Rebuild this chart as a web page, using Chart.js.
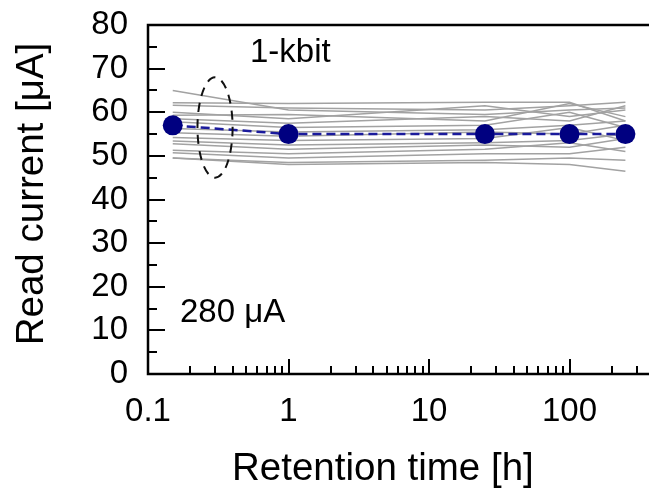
<!DOCTYPE html>
<html>
<head>
<meta charset="utf-8">
<script src="https://cdn.jsdelivr.net/npm/chart.js@4/dist/chart.umd.min.js"></script>
<style>
  html, body { margin: 0; padding: 0; background: #fff; overflow: hidden; }
  #wrap { width: 720px; height: 489px; }
</style>
</head>
<body>
<div id="wrap"><canvas id="retention" width="720" height="489"></canvas></div>
<script>
// retention times [h]
const timesH = [0.15, 1, 25, 100, 250];

// average read current of the array [uA]
const meanCurrent = [57, 55, 55, 55, 55];

// read current of individual bits [uA], one row per bit trace
const bitCurrents = [
  [65.0, 60.5, 59.5, 60.5, 61.0],
  [62.2, 62.0, 62.3, 62.3, 58.0],
  [61.6, 61.0, 60.5, 61.5, 62.3],
  [60.0, 58.5, 61.5, 59.0, 60.5],
  [59.3, 59.5, 58.0, 62.0, 59.0],
  [58.5, 57.5, 59.0, 58.0, 61.5],
  [57.8, 56.5, 57.0, 60.0, 56.5],
  [56.3, 55.5, 56.0, 57.0, 58.0],
  [55.3, 54.5, 55.5, 55.0, 57.0],
  [54.2, 53.5, 54.0, 56.5, 53.5],
  [53.4, 52.5, 53.0, 53.5, 55.0],
  [52.8, 51.5, 52.5, 52.0, 54.0],
  [51.3, 50.5, 51.5, 53.0, 51.0],
  [50.7, 49.5, 50.5, 50.5, 52.0],
  [49.5, 48.5, 49.0, 49.5, 49.0],
  [49.5, 48.0, 48.5, 48.0, 46.5],
];

// axis ticks
const xTickValues = [0.1, 1, 10, 100];
const xTickLabels = ['0.1', '1', '10', '100'];
const xDecades = [0.1, 1, 10, 100];
const yMinorTicks = [0, 5, 10, 15, 20, 25, 30, 35, 40, 45, 50, 55, 60, 65, 70, 75, 80];

const FONT = '"Liberation Sans", Arial, sans-serif';

const toPoints = vals => timesH.map((t, i) => ({ x: t, y: vals[i] }));

// keep the plot area where the layout padding puts it
const noOverhang = scale => {
  scale.paddingTop = 0;
  scale.paddingBottom = 0;
  scale.paddingLeft = 0;
  scale.paddingRight = 0;
};

// frame, inward ticks, dashed ellipse and text labels
const decorations = {
  id: 'decorations',
  afterDatasetsDraw(chart) {
    const { ctx, chartArea: a, scales: { x, y } } = chart;
    ctx.save();

    // dashed ellipse around the first readout
    const cx = x.getPixelForValue(0.3), cy = y.getPixelForValue(56.5);
    const rx = (x.getPixelForValue(0.402) - x.getPixelForValue(0.226)) / 2;
    const ry = (y.getPixelForValue(45) - y.getPixelForValue(68)) / 2;
    ctx.strokeStyle = '#111';
    ctx.lineWidth = 2;
    ctx.setLineDash([9, 7]);
    ctx.beginPath();
    ctx.ellipse(cx, cy, rx, ry, 0, 0, Math.PI * 2);
    ctx.stroke();
    ctx.setLineDash([]);

    // frame
    ctx.strokeStyle = '#000';
    ctx.lineWidth = 2.5;
    ctx.strokeRect(a.left, a.top, a.right - a.left, a.bottom - a.top);

    // y ticks every 5, longer on labelled values
    ctx.lineWidth = 2;
    ctx.beginPath();
    yMinorTicks.forEach(v => {
      const py = Math.round(y.getPixelForValue(v));
      const len = v % 10 === 0 ? 17 : 9;
      ctx.moveTo(a.left, py);
      ctx.lineTo(a.left + len, py);
    });
    // x log ticks, longer on decades
    xDecades.forEach(d => {
      for (let k = 1; k <= 9; k++) {
        const px = Math.round(x.getPixelForValue(k * d));
        const len = k === 1 ? 15 : 8;
        ctx.moveTo(px, a.bottom);
        ctx.lineTo(px, a.bottom - len);
      }
    });
    ctx.stroke();

    // labels
    ctx.fillStyle = '#000';
    ctx.textBaseline = 'alphabetic';
    ctx.textAlign = 'left';
    ctx.font = '33px ' + FONT;
    ctx.fillText('1-kbit', a.left + 102, a.top + 37);
    ctx.fillText('280 \u03bcA', a.left + 32, a.top + 297);

    ctx.font = '38.5px ' + FONT;
    ctx.fillText('Retention time [h]', 232, 480);

    ctx.translate(43, 194);
    ctx.rotate(-Math.PI / 2);
    ctx.textAlign = 'center';
    ctx.fillText('Read current [\u03bcA]', 0, 0);
    ctx.restore();
  }
};

const datasets = [{
  label: 'Average',
  data: toPoints(meanCurrent),
  borderColor: '#1a1a9c',
  borderWidth: 2.5,
  borderDash: [9, 5],
  pointRadius: 10,
  pointHoverRadius: 10,
  pointBackgroundColor: '#000080',
  pointBorderWidth: 0,
}].concat(bitCurrents.map((row, i) => ({
  label: 'Bit ' + (i + 1),
  data: toPoints(row),
  borderColor: '#a2a2a2',
  borderWidth: 1.5,
  pointRadius: 0,
})));

new Chart(document.getElementById('retention'), {
  type: 'line',
  data: { datasets },
  options: {
    responsive: false,
    animation: false,
    layout: { padding: { top: 25, right: 9, left: 0, bottom: 0 } },
    plugins: { legend: { display: false }, tooltip: { enabled: false } },
    scales: {
      x: {
        type: 'logarithmic',
        min: 0.1,
        max: 1000,
        grid: { display: false, drawTicks: false },
        border: { display: false },
        afterFit(scale) { scale.height = 115; noOverhang(scale); },
        ticks: {
          autoSkip: false,
          maxRotation: 0,
          padding: 18,
          color: '#000',
          font: { family: FONT, size: 33 },
          callback(value) {
            const i = xTickValues.findIndex(v => Math.abs(v - value) < 1e-9);
            return i >= 0 ? xTickLabels[i] : '';
          },
        },
      },
      y: {
        min: 0,
        max: 80,
        grid: { display: false, drawTicks: false },
        border: { display: false },
        afterFit(scale) { scale.width = 148; noOverhang(scale); },
        ticks: {
          stepSize: 10,
          padding: 20,
          color: '#000',
          font: { family: FONT, size: 33 },
        },
      },
    },
  },
  plugins: [decorations],
});
</script>
</body>
</html>
